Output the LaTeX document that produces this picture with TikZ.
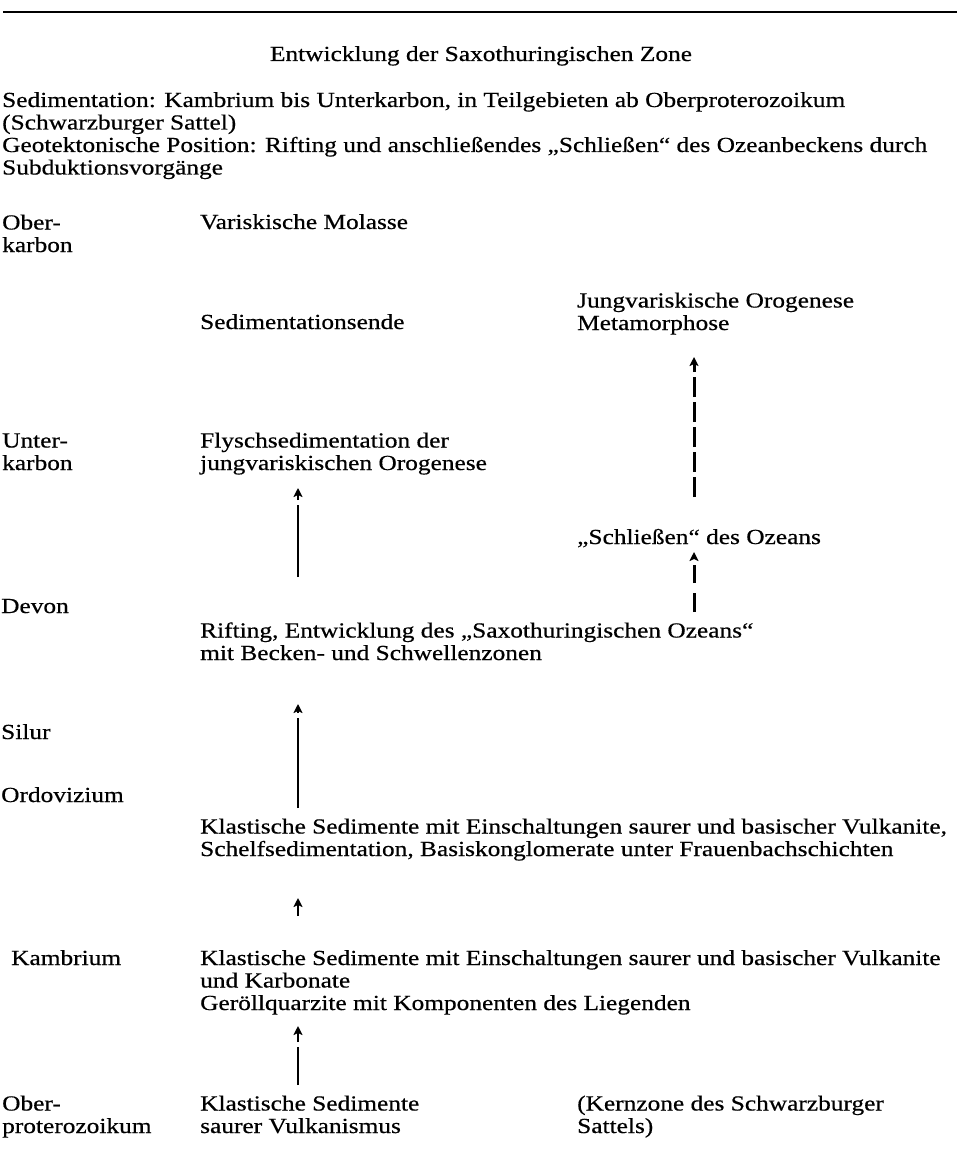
\documentclass[tikz,border=0pt]{standalone}
\usepackage{fontspec}
\setmainfont[FakeStretch=1.18,FakeBold=0.5]{Liberation Serif}
\usetikzlibrary{arrows.meta}
\begin{document}
\begin{tikzpicture}[x=1pt,y=-1pt,
  txt/.style={anchor=base west,inner sep=0pt,align=left,font=\fontsize{21.5}{22.5}\selectfont},
  ttl/.style={anchor=base,inner sep=0pt,font=\fontsize{21.5}{22.5}\selectfont},
  tipstyle/.style={-{Stealth[length=9pt,width=9pt,inset=2pt]}},
  solidarrow/.style={tipstyle,line width=2pt},
  dasharrow/.style={tipstyle,line width=3pt}]
\fill[white] (0,0) rectangle (959,1174);
\useasboundingbox (0,0) rectangle (959,1174);
\draw[line width=2pt] (3,12) -- (957,12);
% (multi-line nodes are placed at the baseline of their last line)
\node[ttl] (title) at (481,61) {Entwicklung der Saxothuringischen Zone};
\node[txt] (h1) at (2,129.5) {Sedimentation: Kambrium bis Unterkarbon, in Teilgebieten ab Oberproterozoikum\\(Schwarzburger Sattel)};
\node[txt] (h2) at (2,174.5) {Geotektonische Position: Rifting und anschließendes „Schließen“ des Ozeanbeckens durch\\Subduktionsvorgänge};
% left column
\node[txt] (oberkarbon) at (2,252) {Ober-\\karbon};
\node[txt] (unterkarbon) at (2,470) {Unter-\\karbon};
\node[txt] (devon) at (1,613) {Devon};
\node[txt] (silur) at (1,739) {Silur};
\node[txt] (ordo) at (1,802) {Ordovizium};
\node[txt] (kambrium) at (11,965) {Kambrium};
\node[txt] (oberpro) at (2,1133) {Ober-\\proterozoikum};
% middle column
\node[txt] (molasse) at (200,229) {Variskische Molasse};
\node[txt] (sedende) at (200,329) {Sedimentationsende};
\node[txt] (flysch) at (200,470) {Flyschsedimentation der\\jungvariskischen Orogenese};
\node[txt] (rifting) at (200,660) {Rifting, Entwicklung des „Saxothuringischen Ozeans“\\mit Becken- und Schwellenzonen};
\node[txt] (klast1) at (200,856) {Klastische Sedimente mit Einschaltungen saurer und basischer Vulkanite,\\Schelfsedimentation, Basiskonglomerate unter Frauenbachschichten};
\node[txt] (klast2) at (200,1010) {Klastische Sedimente mit Einschaltungen saurer und basischer Vulkanite\\und Karbonate\\Geröllquarzite mit Komponenten des Liegenden};
\node[txt] (klast3) at (200,1133) {Klastische Sedimente\\saurer Vulkanismus};
% right column
\node[txt] (jungvar) at (577,330) {Jungvariskische Orogenese\\Metamorphose};
\node[txt] (schliessen) at (577,544) {„Schließen“ des Ozeans};
\node[txt] (kernzone) at (577,1133) {(Kernzone des Schwarzburger\\Sattels)};
% arrow end points
\coordinate (a1s) at (298,577); \coordinate (a1e) at (298,488);
\coordinate (a2s) at (298,808); \coordinate (a2e) at (298,704);
\coordinate (a3s) at (298,916); \coordinate (a3e) at (298,898);
\coordinate (a4s) at (298,1085); \coordinate (a4e) at (298,1026);
\coordinate (d1s) at (694,497); \coordinate (d1e) at (694,357);
\coordinate (d2s) at (694,612); \coordinate (d2e) at (694,552);
\draw[solidarrow,dash pattern=on 72pt off 5pt on 40pt] (a1s) -- (a1e);
\draw[solidarrow,dash pattern=on 90pt off 5pt on 40pt] (a2s) -- (a2e);
\draw[solidarrow] (a3s) -- (a3e);
\draw[solidarrow,dash pattern=on 38pt off 5pt on 40pt] (a4s) -- (a4e);
\draw[dasharrow,dash pattern=on 20pt off 5pt] (d1s) -- (d1e);
\draw[dasharrow,dash pattern=on 19pt off 10pt on 18pt off 7pt on 30pt] (d2s) -- (d2e);
\end{tikzpicture}
\end{document}
